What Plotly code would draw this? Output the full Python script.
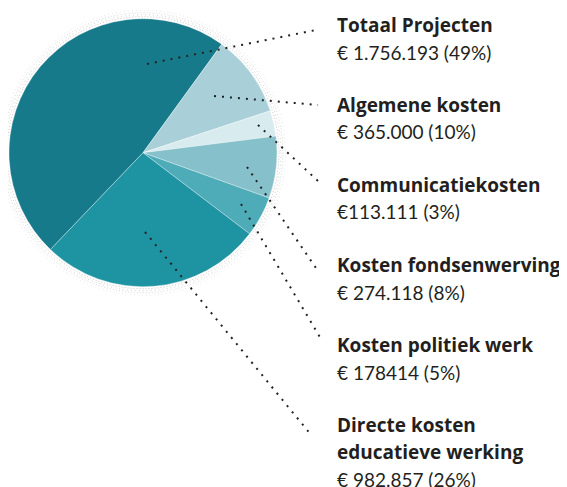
import plotly.graph_objects as go

# ---- data ----
categories = ["Totaal Projecten", "Algemene kosten", "Communicatiekosten",
              "Kosten fondsenwerving", "Kosten politiek werk",
              "Directe kosten educatieve werking"]
values = [1756193, 365000, 113111, 274118, 178414, 982857]
value_labels = ["€ 1.756.193 (49%)", "€ 365.000 (10%)", "€113.111 (3%)",
                "€ 274.118 (8%)", "€ 178414 (5%)", "€ 982.857 (26%)"]
title_lines = [["Totaal Projecten"], ["Algemene kosten"], ["Communicatiekosten"],
               ["Kosten fondsenwerving"], ["Kosten politiek werk"],
               ["Directe kosten", "educatieve werking"]]
colors = ["#177a8b", "#a9d0d8", "#d8ebee", "#86c0ca", "#4eabb8", "#1e93a2"]

# ---- layout helpers (pixel geometry; page body has an 8px margin) ----
OFF = 8
W, H = 567 - OFF, 487 - OFF
cx, cy, r = 143, 152.7, 134


def px(x):
    return (x - OFF) / W


def py(y):
    return 1 - (y - OFF) / H


# leader line anchor points (reference pixels)
leader_start = [(147, 64), (214, 96), (258, 125), (247, 167), (241, 204), (145, 232)]
leader_end = [(316, 30), (318, 105), (318, 181), (318, 271), (321, 339), (312, 436)]

fig = go.Figure()
fig.add_trace(go.Pie(
    labels=categories, values=values, sort=False, direction="clockwise",
    rotation=223.7,
    marker=dict(colors=colors, line=dict(color="rgba(255,255,255,0.55)", width=0.6)),
    textinfo="none", hoverinfo="label+value+percent", showlegend=False,
    domain=dict(x=[px(cx - r), px(cx + r)], y=[py(cy + r), py(cy - r)]),
))

shapes = []
# faint stippled halo
for rr, col, dash in [(136, "rgba(160,160,160,0.6)", "1px,2px"),
                      (138, "rgba(170,170,170,0.55)", "1px,3px"),
                      (140, "rgba(180,180,180,0.5)", "1px,2px"),
                      (142.5, "rgba(195,195,195,0.4)", "1px,3px")]:
    shapes.append(dict(type="circle", xref="paper", yref="paper",
                       x0=px(cx - rr), x1=px(cx + rr), y0=py(cy + rr), y1=py(cy - rr),
                       line=dict(color=col, width=1, dash=dash), layer="below"))
for (x0, y0), (x1, y1) in zip(leader_start, leader_end):
    shapes.append(dict(type="line", xref="paper", yref="paper",
                       x0=px(x0), y0=py(y0), x1=px(x1), y1=py(y1),
                       line=dict(color="#222222", width=2, dash="2px,6px")))

annotations = []
text_x = 335
line_h = 27
group_h = 80
for i, (tl, vl) in enumerate(zip(title_lines, value_labels)):
    y = 25 + group_h * i
    for t in tl:
        annotations.append(dict(xref="paper", yref="paper", x=px(text_x), y=py(y),
                                xanchor="left", yanchor="middle", showarrow=False,
                                text="<b>" + t + "</b>",
                                font=dict(family="Open Sans", size=19, color="#231f20")))
        y += line_h
    annotations.append(dict(xref="paper", yref="paper", x=px(text_x), y=py(y),
                            xanchor="left", yanchor="middle", showarrow=False,
                            text=vl,
                            font=dict(family="Lato", size=19, color="#231f20")))

fig.update_layout(width=W, height=H, margin=dict(l=0, r=0, t=0, b=0),
                  paper_bgcolor="white", plot_bgcolor="white",
                  shapes=shapes, annotations=annotations)
fig.write_html("out.html")
